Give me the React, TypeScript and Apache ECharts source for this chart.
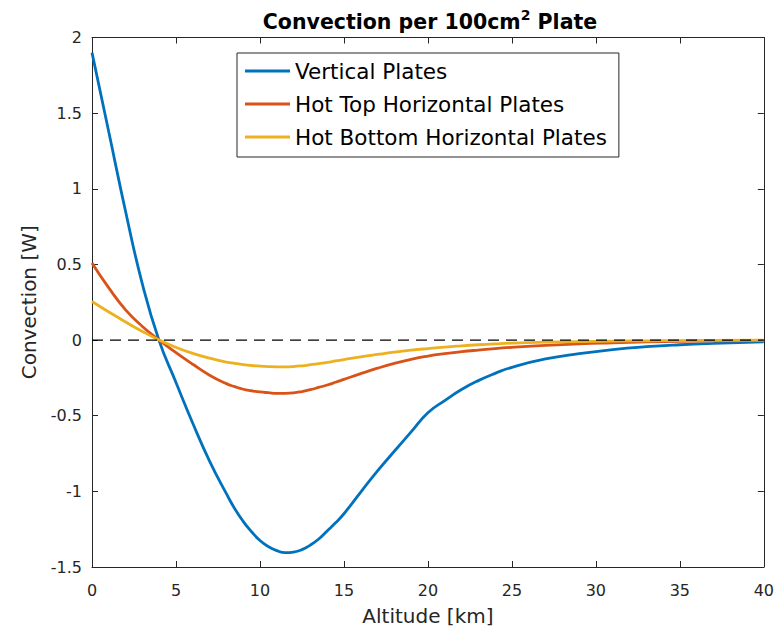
import React, { useEffect, useRef } from "react";
import * as echarts from "echarts";

const altitude = [0, 1, 2, 3, 4, 5, 6, 7, 8, 8.5, 9, 9.5, 10, 10.5, 11, 11.5, 12, 12.5, 13, 13.5, 14, 14.5, 15, 16, 17, 18, 19, 20, 21, 22, 23, 24, 25, 27, 29, 31, 33, 35, 37, 40];

const verticalPlates = [1.9, 1.375, 0.85, 0.37, -0.005, -0.28, -0.55, -0.8, -1.015, -1.115, -1.198, -1.267, -1.325, -1.365, -1.392, -1.405, -1.401, -1.385, -1.355, -1.315, -1.262, -1.208, -1.148, -1.005, -0.865, -0.735, -0.607, -0.48, -0.4, -0.327, -0.268, -0.22, -0.18, -0.125, -0.09, -0.063, -0.044, -0.031, -0.022, -0.012];

const hotTopPlates = [0.51, 0.345, 0.2, 0.09, 0.0, -0.083, -0.16, -0.232, -0.288, -0.308, -0.325, -0.335, -0.343, -0.348, -0.352, -0.352, -0.349, -0.34, -0.328, -0.313, -0.297, -0.279, -0.26, -0.222, -0.186, -0.154, -0.127, -0.106, -0.09, -0.077, -0.066, -0.056, -0.048, -0.035, -0.025, -0.018, -0.012, -0.008, -0.005, -0.003];

const hotBottomPlates = [0.255, 0.186, 0.12, 0.057, 0.0, -0.048, -0.088, -0.12, -0.145, -0.154, -0.162, -0.168, -0.172, -0.175, -0.177, -0.177, -0.175, -0.17, -0.163, -0.155, -0.147, -0.138, -0.129, -0.111, -0.095, -0.08, -0.067, -0.056, -0.046, -0.038, -0.031, -0.025, -0.02, -0.014, -0.01, -0.007, -0.005, -0.003, -0.002, -0.001];

const zeroLineX = [0, 40];
const zeroLineY = [0, 0];

const seriesNames = ["Vertical Plates", "Hot Top Horizontal Plates", "Hot Bottom Horizontal Plates"];
const seriesColors = ["#0072BD", "#D95319", "#EDB120"];

const FONT = "DejaVu Sans";
const AXIS_COLOR = "#262626";

export default function App() {
  const ref = useRef<HTMLDivElement>(null);

  useEffect(() => {
    if (!ref.current) return;
    const chart = echarts.init(ref.current, undefined, { renderer: "svg" });
    const values = [verticalPlates, hotTopPlates, hotBottomPlates];

    const axisCommon = {
      type: "value",
      axisLine: { show: true, onZero: false, lineStyle: { color: AXIS_COLOR, width: 1 } },
      axisTick: { show: true, inside: true, length: 6, lineStyle: { color: AXIS_COLOR, width: 1 } },
      splitLine: { show: false },
    };

    const option: any = {
      animation: false,
      backgroundColor: "#ffffff",
      grid: { left: 92, right: 13, top: 37.5, bottom: 71, containLabel: false },
      graphic: [
        {
          type: "text",
          x: 430,
          y: 20,
          style: {
            text: "{a|Convection per 100cm}{s|2}{a| Plate}",
            textAlign: "center",
            textVerticalAlign: "middle",
            rich: {
              a: { fontFamily: FONT, fontSize: 20.5, fontWeight: "bold", fill: "#000", lineHeight: 24, verticalAlign: "bottom" },
              s: { fontFamily: FONT, fontSize: 14, fontWeight: "bold", fill: "#000", lineHeight: 24, verticalAlign: "top" },
            },
          },
        },
      ],
      legend: {
        orient: "vertical",
        left: 237,
        top: 53,
        padding: [6, 12, 8, 8],
        itemGap: 9,
        itemWidth: 45,
        itemHeight: 3,
        icon: "rect",
        borderColor: AXIS_COLOR,
        borderWidth: 1,
        backgroundColor: "#ffffff",
        data: seriesNames,
        textStyle: { fontFamily: FONT, fontSize: 21.5, color: "#000", lineHeight: 24 },
      },
      xAxis: [
        {
          ...axisCommon,
          position: "bottom",
          min: 0,
          max: 40,
          interval: 5,
          name: "Altitude [km]",
          nameLocation: "middle",
          nameGap: 39,
          nameTextStyle: { fontFamily: FONT, fontSize: 20, color: AXIS_COLOR },
          axisLabel: { fontFamily: FONT, fontSize: 16, color: AXIS_COLOR, margin: 15 },
        },
        {
          ...axisCommon,
          position: "top",
          min: 0,
          max: 40,
          interval: 5,
          axisLabel: { show: false },
        },
      ],
      yAxis: [
        {
          ...axisCommon,
          position: "left",
          min: -1.5,
          max: 2,
          interval: 0.5,
          name: "Convection [W]",
          nameLocation: "middle",
          nameGap: 53,
          nameTextStyle: { fontFamily: FONT, fontSize: 20, color: AXIS_COLOR },
          axisLabel: { fontFamily: FONT, fontSize: 16, color: AXIS_COLOR, margin: 10, padding: [6, 0, 0, 0] },
        },
        {
          ...axisCommon,
          position: "right",
          min: -1.5,
          max: 2,
          interval: 0.5,
          axisLabel: { show: false },
        },
      ],
      series: [
        ...seriesNames.map((name, i) => ({
          name,
          type: "line",
          xAxisIndex: 0,
          yAxisIndex: 0,
          data: altitude.map((x, j) => [x, values[i][j]]),
          showSymbol: false,
          symbol: "none",
          smooth: 0.5,
          color: seriesColors[i],
          lineStyle: { color: seriesColors[i], width: 2.8 },
          z: 2 + i,
        })),
        {
          name: "zero",
          type: "line",
          xAxisIndex: 0,
          yAxisIndex: 0,
          data: zeroLineX.map((x, j) => [x, zeroLineY[j]]),
          showSymbol: false,
          symbol: "none",
          lineStyle: { color: "#000000", width: 1.3, type: [11, 7] },
          z: 10,
          silent: true,
        },
      ],
    };

    chart.setOption(option);
    return () => chart.dispose();
  }, []);

  return (
    <div
      ref={ref}
      style={{ position: "fixed", left: 0, top: 0, width: 777, height: 638, background: "#fff" }}
    />
  );
}
